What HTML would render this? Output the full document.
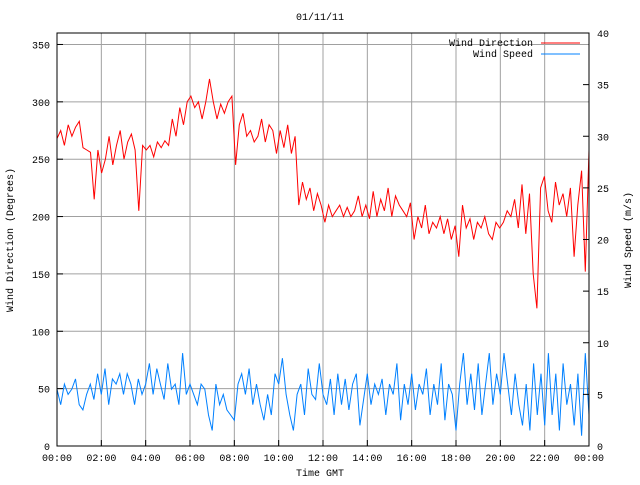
<!DOCTYPE html>
<html><head><meta charset="utf-8"><style>
body{margin:0;background:#fff}
svg text{font-family:"Liberation Mono",monospace;font-size:10px;fill:#000}
</style></head><body>
<svg id="c" width="640" height="480">
<g id="grid"></g>
<g id="series"></g>
<rect x="57" y="33" width="532" height="413" fill="none" stroke="#000" stroke-width="1"/>
<g id="axes"></g>
<text x="320" y="20" text-anchor="middle">01/11/11</text>
<text x="320" y="476" text-anchor="middle">Time GMT</text>
<text transform="translate(13,240) rotate(-90)" text-anchor="middle">Wind Direction (Degrees)</text>
<text transform="translate(631,240) rotate(-90)" text-anchor="middle">Wind Speed (m/s)</text>
<g>
<text x="533" y="46" text-anchor="end">Wind Direction</text>
<line x1="541" y1="43" x2="580" y2="43" stroke="#ff0000"/>
<text x="533" y="57" text-anchor="end">Wind Speed</text>
<line x1="541" y1="54" x2="580" y2="54" stroke="#0080ff"/>
</g>
</svg>
<script>
const xTickLabels=["00:00","02:00","04:00","06:00","08:00","10:00","12:00","14:00","16:00","18:00","20:00","22:00","00:00"];
const leftTicks=[0,50,100,150,200,250,300,350];
const rightTicks=[0,5,10,15,20,25,30,35,40];
const direction=[268,275,262,280,270,278,283,260,258,256,215,258,238,250,270,245,262,275,250,265,272,258,205,262,258,262,252,265,260,266,262,285,270,295,280,300,305,295,300,285,300,320,300,285,298,290,300,305,245,280,290,270,275,265,270,285,265,280,275,255,275,260,280,255,270,210,230,215,225,205,220,210,195,210,200,205,210,200,208,200,205,218,200,210,198,222,200,215,205,225,200,218,210,205,200,212,180,200,190,210,185,195,190,200,185,198,180,192,165,210,190,198,180,195,190,200,185,180,195,190,195,205,200,215,190,228,185,220,150,120,225,235,205,195,230,210,220,200,225,165,210,240,152,258];
const speed=[5.5,4,6,5,5.5,6.5,4,3.5,5,6,4.5,7,5,7.5,4,6.5,6,7,5,7,6,4,6.5,5,6,8,5,7.5,6,4.5,8,5.5,6,4,9,5,6,5,4,6,5.5,3,1.5,6,4,5,3.5,3,2.5,6,7,5,7.5,4,6,4,2.5,5,3,7,6,8.5,5,3,1.5,5,6,3,7.5,5,4.5,8,5,4,6.5,3,7,4,6.5,3.5,6,7,2,4.5,7,4,6,5,6.5,3,6,5,8,2.5,6,4,7,3.5,6,5,7.5,3,6,4,8,2.5,6,5,1.5,6,9,4,7,3.5,8,3,6,9,4,7,5,9,6,3,7,4,2,6,1.5,8,3,7,2,9,3,7,1.5,8,4,6,2,7,1,9,3];
const X0=57,X1=589,Y0=446,Y1=33;
const xs=i=>X0+(X1-X0)*i/(direction.length-1);
const xsS=i=>X0+(X1-X0)*i/(speed.length-1);
const yL=v=>Y0-(Y0-Y1)*v/360;
const yR=v=>Y0-(Y0-Y1)*v/40;
const NS="http://www.w3.org/2000/svg";
const grid=document.getElementById('grid'),axes=document.getElementById('axes'),ser=document.getElementById('series');
function mk(tag,attrs,parent){const e=document.createElementNS(NS,tag);for(const k in attrs)e.setAttribute(k,attrs[k]);parent.appendChild(e);return e;}
xTickLabels.forEach((t,i)=>{
 const x=X0+(X1-X0)*i/(xTickLabels.length-1);
 if(i>0&&i<xTickLabels.length-1){const g=mk('line',{x1:x,y1:Y1,x2:x,y2:Y0,stroke:'#a0a0a0'},grid);
 
 }
 const tk=mk('line',{x1:x,y1:Y0,x2:x,y2:Y0-6,stroke:'#000'},axes);
 
 
 const tx=mk('text',{x:x,y:461,'text-anchor':'middle'},axes);tx.textContent=t;
 
 
});
leftTicks.forEach(v=>{
 const y=yL(v);
 if(v>0){const g=mk('line',{x1:X0,y1:y,x2:X1,y2:y,stroke:'#a0a0a0'},grid);
 
 }
 const tk=mk('line',{x1:X0,y1:y,x2:X0+6,y2:y,stroke:'#000'},axes);
 
 
 const tx=mk('text',{x:50,y:y+4,'text-anchor':'end'},axes);tx.textContent=v;
 
 
});
rightTicks.forEach(v=>{
 const y=yR(v);
 const tk=mk('line',{x1:X1,y1:y,x2:X1-6,y2:y,stroke:'#000'},axes);
 
 
 const tx=mk('text',{x:597,y:y+4,'text-anchor':'start'},axes);tx.textContent=v;
 
 
});
const pd=mk('polyline',{points:direction.map((v,i)=>xs(i).toFixed(1)+','+yL(v).toFixed(1)).join(' '),fill:'none',stroke:'#ff0000','stroke-width':1},ser);


const ps=mk('polyline',{points:speed.map((v,i)=>xsS(i).toFixed(1)+','+yR(v).toFixed(1)).join(' '),fill:'none',stroke:'#0080ff','stroke-width':1},ser);


</script>
</body></html>
